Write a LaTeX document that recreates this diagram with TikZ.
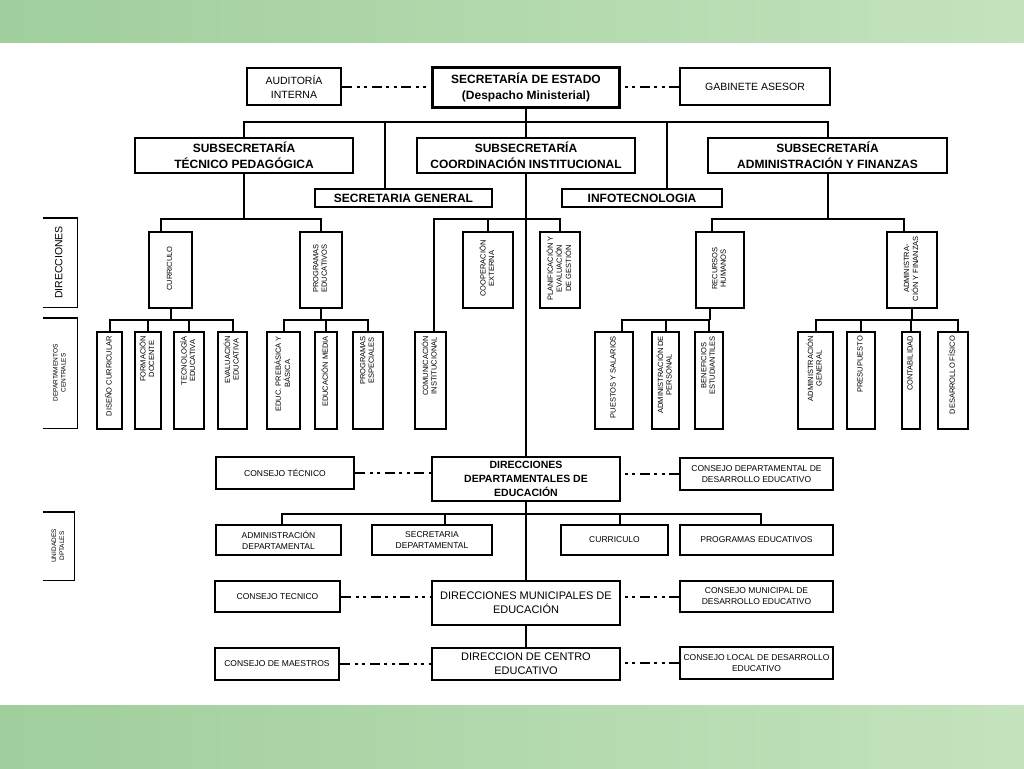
\documentclass[tikz,border=0pt]{standalone}
\usepackage{fontspec}
\setmainfont{Liberation Sans}
\usepackage{graphicx}
\usetikzlibrary{calc}
\newcommand\rottxt[1]{\rotatebox{90}{\hspace*{3pt}\begin{tabular}{@{}c@{}}#1\end{tabular}}}
\newcommand\labtxt[1]{\rotatebox{90}{\begin{tabular}{@{}c@{}}#1\end{tabular}}}
\newcommand\depttxt[1]{\rotatebox{90}{\makebox[89pt][r]{\begin{tabular}{@{}c@{}}#1\end{tabular}}}}
\newcommand\fntTop{\fontsize{10.5}{14}\selectfont}
\newcommand\fntSec{\bfseries\fontsize{12}{16}\selectfont}
\newcommand\fntSub{\bfseries\fontsize{12}{16}\selectfont}
\newcommand\fntSm{\fontsize{7.5}{8.5}\selectfont}
\newcommand\fntLow{\fontsize{8.5}{11}\selectfont}
\newcommand\fntMid{\fontsize{11}{14}\selectfont}
\definecolor{bandA}{RGB}{160,206,156}
\definecolor{bandB}{RGB}{196,227,190}
\begin{document}
\begin{tikzpicture}[x=1pt,y=-1pt,
  box/.style={draw, line width=2pt, fill=white, align=center, inner sep=1pt},
  vbox/.style={box, minimum height=76pt, font=\fntSm},
  dept/.style={box, minimum height=97pt, inner sep=0pt, font=\fntSm},
  lowbox/.style={box, font=\fntLow},
  conn/.style={line width=2pt},
  dd/.style={line width=2pt, dash pattern=on 10pt off 4.5pt on 3pt off 4.5pt on 3pt off 4.5pt},
  lab/.style={inner sep=0pt},
  bracket/.style={line width=1.4pt}]
\useasboundingbox (0,0) rectangle (1024,768);
\fill[white] (0,0) rectangle (1024,768);
\shade[left color=bandA, right color=bandB] (0,0) rectangle (1024,43);
\shade[left color=bandA, right color=bandB] (0,705) rectangle (1024,768);

% ---------- top level
\node[box, minimum width=94pt, minimum height=37pt, font=\fntTop] (aud) at (294,86.5) {AUDITORÍA\\INTERNA};
\node[box, line width=3pt, minimum width=187pt, minimum height=40pt, font=\fntSec] (sec) at (526,87) {SECRETARÍA DE ESTADO\\(Despacho Ministerial)};
\node[box, minimum width=150pt, minimum height=37pt, font=\fntTop] (gab) at (755,86.5) {GABINETE ASESOR};

\node[box, minimum width=218pt, minimum height=35pt, font=\fntSub] (tp) at (244,155.5) {SUBSECRETARÍA\\TÉCNICO PEDAGÓGICA};
\node[box, minimum width=218pt, minimum height=35pt, font=\fntSub] (ci) at (526,155.5) {SUBSECRETARÍA\\COORDINACIÓN INSTITUCIONAL};
\node[box, minimum width=239pt, minimum height=35pt, font=\fntSub] (af) at (827.5,155.5) {SUBSECRETARÍA\\ADMINISTRACIÓN Y FINANZAS};
\node[box, minimum width=177pt, minimum height=18pt, font=\fntSub] (sg) at (403.5,198) {SECRETARIA GENERAL};
\node[box, minimum width=160pt, minimum height=18pt, font=\fntSub] (info) at (642,198) {INFOTECNOLOGIA};

% ---------- side labels
\node[lab, minimum width=34pt, minimum height=89pt, font=\fontsize{10.5}{12}\selectfont] (ldir) at (60,262.5) {\labtxt{DIRECCIONES}};
\node[lab, minimum width=34pt, minimum height=110pt, font=\fontsize{6.5}{8}\selectfont] (ldep) at (60,373) {\labtxt{DEPARTAMENTOS\\CENTRALES}};
\node[lab, minimum width=31pt, minimum height=68pt, font=\fontsize{6.5}{8}\selectfont] (luni) at (58.5,546) {\labtxt{UNIDADES\\DPTALES}};
\draw[bracket] (ldir.north west) -- (ldir.north east) -- (ldir.south east) -- (ldir.south west);
\draw[bracket] (ldep.north west) -- (ldep.north east) -- (ldep.south east) -- (ldep.south west);
\draw[bracket] (luni.north west) -- (luni.north east) -- (luni.south east) -- (luni.south west);

% ---------- direcciones
\node[vbox, minimum width=43pt] (curr) at (170.5,270) {\rottxt{CURRICULO}};
\node[vbox, minimum width=42pt] (prog) at (321,270) {\rottxt{PROGRAMAS\\EDUCATIVOS}};
\node[vbox, minimum width=50pt] (coop) at (488,270) {\rottxt{COOPERACIÓN\\EXTERNA}};
\node[vbox, minimum width=40pt] (plan) at (560,270) {\rottxt{PLANIFICACIÓN Y\\EVALUACIÓN\\DE GESTIÓN}};
\node[vbox, minimum width=48pt] (rh) at (720,270) {\rottxt{RECURSOS\\HUMANOS}};
\node[vbox, minimum width=50pt] (adf) at (912,270) {\rottxt{ADMINISTRA-\\CIÓN Y FINANZAS}};

% ---------- departamentos centrales
\node[dept, minimum width=25pt] (dis) at (109.5,380.5) {\depttxt{DISEÑO CURRICULAR}};
\node[dept, minimum width=26pt] (form) at (148,380.5) {\depttxt{FORMACIÓN\\DOCENTE}};
\node[dept, minimum width=30pt] (tec) at (189,380.5) {\depttxt{TECNOLOGÍA\\EDUCATIVA}};
\node[dept, minimum width=29pt] (eva) at (232.5,380.5) {\depttxt{EVALUACIÓN\\EDUCATIVA}};
\node[dept, minimum width=33pt] (educ) at (283.5,380.5) {\depttxt{EDUC. PREBÁSICA Y\\BÁSICA}};
\node[dept, minimum width=22pt] (med) at (326,380.5) {\depttxt{EDUCACIÓN MEDIA}};
\node[dept, minimum width=30pt] (esp) at (368,380.5) {\depttxt{PROGRAMAS\\ESPECIALES}};
\node[dept, minimum width=31pt] (com) at (430.5,380.5) {\depttxt{COMUNICACIÓN\\INSTITUCIONAL}};
\node[dept, minimum width=38pt] (pue) at (614,380.5) {\depttxt{PUESTOS Y SALARIOS}};
\node[dept, minimum width=27pt] (adp) at (665.5,380.5) {\depttxt{ADMINISTRACIÓN DE\\PERSONAL}};
\node[dept, minimum width=28pt] (ben) at (709,380.5) {\depttxt{BENEFICIOS\\ESTUDIANTILES}};
\node[dept, minimum width=35pt] (adg) at (815.5,380.5) {\depttxt{ADMINISTRACIÓN\\GENERAL}};
\node[dept, minimum width=28pt] (pre) at (861,380.5) {\depttxt{PRESUPUESTO}};
\node[dept, minimum width=18pt] (con) at (911,380.5) {\depttxt{CONTABILIDAD}};
\node[dept, minimum width=30pt] (des) at (953,380.5) {\depttxt{DESARROLLO FÍSICO}};

% ---------- unidades departamentales
\node[lowbox, minimum width=138pt, minimum height=32pt] (ct1) at (285,473) {CONSEJO TÉCNICO};
\node[box, minimum width=188pt, minimum height=44pt, font=\bfseries\fontsize{10.5}{14}\selectfont] (dde) at (526,479) {DIRECCIONES\\DEPARTAMENTALES DE\\EDUCACIÓN};
\node[lowbox, minimum width=153pt, minimum height=32pt] (cdd) at (756.5,474) {CONSEJO DEPARTAMENTAL DE\\DESARROLLO EDUCATIVO};

\node[lowbox, minimum width=125pt, minimum height=30pt] (adm) at (278.5,540) {ADMINISTRACIÓN\\DEPARTAMENTAL};
\node[lowbox, minimum width=120pt, minimum height=30pt] (secd) at (432,540) {SECRETARIA\\DEPARTAMENTAL};
\node[lowbox, minimum width=107pt, minimum height=30pt] (cur2) at (614.5,540) {CURRICULO};
\node[lowbox, minimum width=153pt, minimum height=30pt] (pe2) at (756.5,540) {PROGRAMAS EDUCATIVOS};

\node[lowbox, minimum width=125pt, minimum height=31pt] (ct2) at (277.5,596.5) {CONSEJO TECNICO};
\node[box, minimum width=188pt, minimum height=44pt, font=\fntMid] (dme) at (526,603) {DIRECCIONES MUNICIPALES DE\\EDUCACIÓN};
\node[lowbox, minimum width=153pt, minimum height=31pt] (cmd) at (756.5,596.5) {CONSEJO MUNICIPAL DE\\DESARROLLO EDUCATIVO};

\node[lowbox, minimum width=124pt, minimum height=32pt] (cm) at (277,664) {CONSEJO DE MAESTROS};
\node[box, minimum width=188pt, minimum height=32pt, font=\fntMid] (dce) at (526,664) {DIRECCION DE CENTRO\\EDUCATIVO};
\node[lowbox, minimum width=153pt, minimum height=32pt] (cld) at (756.5,663) {CONSEJO LOCAL DE DESARROLLO\\EDUCATIVO};

% ---------- connectors: top
\coordinate (busA) at (0,122);
\coordinate (busB) at (0,219);
\coordinate (busC) at (0,320);
\coordinate (busD) at (0,514);
\draw[dd] (aud.east) -- (aud.east -| sec.west);
\draw[dd] (gab.west) -- (gab.west -| sec.east);
\draw[conn] (tp.north) |- (af.north |- busA) -- (af.north);
\draw[conn] (sec.south) -- (ci.north);
\coordinate (sgtop) at ([xshift=-18.5pt]sg.north);
\coordinate (infotop) at ([xshift=25pt]info.north);
\draw[conn] (sgtop) -- (sgtop |- busA);
\draw[conn] (infotop) -- (infotop |- busA);

% direcciones buses
\coordinate (currtop) at ([xshift=-10pt]curr.north);
\draw[conn] (currtop) |- (prog.north |- busB) -- (prog.north);
\draw[conn] (tp.south) -- (tp.south |- busB);
\coordinate (comtop) at ([xshift=3.5pt]com.north);
\draw[conn] (comtop) |- (plan.north |- busB) -- (plan.north);
\draw[conn] (coop.north) -- (coop.north |- busB);
\coordinate (rhtop) at ([xshift=-8pt]rh.north);
\coordinate (adftop) at ([xshift=-8pt]adf.north);
\draw[conn] (rhtop) |- (adftop |- busB) -- (adftop);
\draw[conn] (af.south) -- (af.south |- busB);

% departamentos buses
\draw[conn] (dis.north) |- (eva.north |- busC) -- (eva.north);
\draw[conn] (form.north) -- (form.north |- busC);
\draw[conn] (tec.north) -- (tec.north |- busC);
\draw[conn] (curr.south) -- (curr.south |- busC);
\draw[conn] (educ.north) |- (esp.north |- busC) -- (esp.north);
\draw[conn] (med.north) -- (med.north |- busC);
\draw[conn] (prog.south) -- (prog.south |- busC);
\coordinate (puetop) at ([xshift=8pt]pue.north);
\coordinate (rhbot) at ([xshift=-10pt]rh.south);
\draw[conn] (puetop) |- (ben.north |- busC) -- (ben.north);
\draw[conn] (adp.north) -- (adp.north |- busC);
\draw[conn] (rhbot) -- (rhbot |- busC);
\coordinate (destop) at ([xshift=5pt]des.north);
\draw[conn] (adg.north) |- (destop |- busC) -- (destop);
\draw[conn] (pre.north) -- (pre.north |- busC);
\draw[conn] (con.north) -- (con.north |- busC);
\draw[conn] (adf.south) -- (adf.south |- busC);

% trunk and lower part
\draw[conn] (ci.south) -- (dde.north);
\draw[dd] (ct1.east) -- (ct1.east -| dde.west);
\draw[dd] (cdd.west) -- (cdd.west -| dde.east);
\coordinate (admtop) at ([xshift=3.5pt]adm.north);
\coordinate (secdtop) at ([xshift=13pt]secd.north);
\coordinate (cur2top) at ([xshift=5.5pt]cur2.north);
\coordinate (pe2top) at ([xshift=4.5pt]pe2.north);
\draw[conn] (admtop) |- (pe2top |- busD) -- (pe2top);
\draw[conn] (secdtop) -- (secdtop |- busD);
\draw[conn] (cur2top) -- (cur2top |- busD);
\draw[conn] (dde.south) -- (dme.north);
\draw[conn] (dme.south) -- (dce.north);
\draw[dd] (ct2.east) -- (ct2.east -| dme.west);
\draw[dd] (cmd.west) -- (cmd.west -| dme.east);
\draw[dd] (cm.east) -- (cm.east -| dce.west);
\draw[dd] (cld.west) -- (cld.west -| dce.east);
\end{tikzpicture}
\end{document}
